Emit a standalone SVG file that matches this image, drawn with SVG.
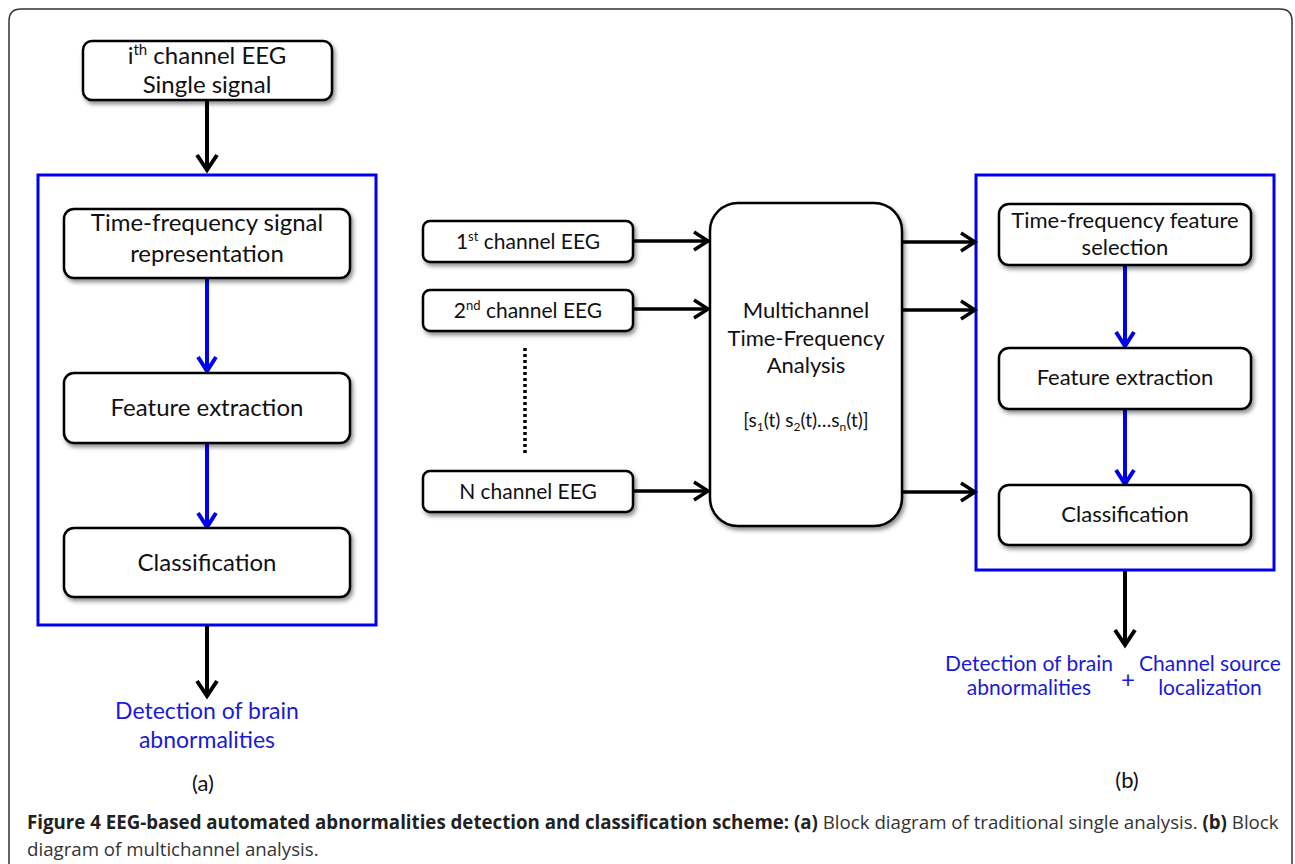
<svg xmlns="http://www.w3.org/2000/svg" width="1295" height="864" viewBox="0 0 1295 864">
<style>
.box{fill:#fff;stroke:#000;stroke-width:2.5;filter:url(#sh)}
.blue{fill:none;stroke:#0000ee;stroke-width:3}
.t{font-family:Lato,"Open Sans",sans-serif;fill:#111;text-anchor:middle}
.bt{font-family:Lato,"Open Sans",sans-serif;fill:#1a1ad6;text-anchor:middle}
.ab{stroke:#000;stroke-width:4;fill:none}
.ab3{stroke:#000;stroke-width:3.5;fill:none}
.abl{stroke:#0000ee;stroke-width:4;fill:none}
.cap{font-family:"Open Sans",sans-serif;font-size:18.7px;fill:#333}
</style>
<defs>
<filter id="sh" x="-10%" y="-20%" width="130%" height="150%">
<feDropShadow dx="2" dy="3" stdDeviation="2" flood-color="#000" flood-opacity="0.45"/>
</filter>
<marker id="mk" markerUnits="userSpaceOnUse" viewBox="0 0 22 24" markerWidth="22" markerHeight="24" refX="18" refY="12" orient="auto">
<path d="M3,2 L18,12 L3,22" fill="none" stroke="#000" stroke-width="4"/>
</marker>
<marker id="mk3" markerUnits="userSpaceOnUse" viewBox="0 0 22 24" markerWidth="22" markerHeight="24" refX="18" refY="12" orient="auto">
<path d="M4,3 L18,12 L4,21" fill="none" stroke="#000" stroke-width="3.5"/>
</marker>
<marker id="mkb" markerUnits="userSpaceOnUse" viewBox="0 0 22 24" markerWidth="22" markerHeight="24" refX="18" refY="12" orient="auto">
<path d="M4,3 L18,12 L4,21" fill="none" stroke="#0000ee" stroke-width="4"/>
</marker>
</defs>
<rect x="0" y="0" width="1295" height="864" fill="#fff"/>
<path d="M9,864 V21 Q9,9 21,9 H1280 Q1292,9 1292,21 V864" fill="none" stroke="#333" stroke-width="1.5"/>

<g id="group-a">
<rect class="blue" x="38" y="175" width="338" height="450"/>
</g>
<g id="group-b">
<rect class="blue" x="976" y="175" width="298" height="395"/>
</g>

<g id="connectors">
<line class="ab" x1="207" y1="101" x2="207" y2="170" marker-end="url(#mk)"/>
<line class="abl" x1="207" y1="279" x2="207" y2="371" marker-end="url(#mkb)"/>
<line class="abl" x1="207" y1="444" x2="207" y2="527" marker-end="url(#mkb)"/>
<line class="ab" x1="207" y1="626" x2="207" y2="696" marker-end="url(#mk)"/>
<line class="ab3" x1="634" y1="241" x2="708" y2="241" marker-end="url(#mk3)"/>
<line class="ab3" x1="634" y1="309" x2="708" y2="309" marker-end="url(#mk3)"/>
<line class="ab3" x1="634" y1="491" x2="708" y2="491" marker-end="url(#mk3)"/>
<line x1="525" y1="348" x2="525" y2="456" stroke="#000" stroke-width="3.5" stroke-dasharray="3,3"/>
<line class="ab3" x1="903" y1="242" x2="975" y2="242" marker-end="url(#mk3)"/>
<line class="ab3" x1="903" y1="310" x2="975" y2="310" marker-end="url(#mk3)"/>
<line class="ab3" x1="903" y1="492" x2="975" y2="492" marker-end="url(#mk3)"/>
<line class="abl" x1="1125" y1="266" x2="1125" y2="346" marker-end="url(#mkb)"/>
<line class="abl" x1="1125" y1="410" x2="1125" y2="484" marker-end="url(#mkb)"/>
<line class="ab" x1="1125" y1="571" x2="1125" y2="645" marker-end="url(#mk)"/>
</g>

<g id="n-input">
<rect class="box" x="83" y="41" width="249" height="59" rx="9"/>
<text class="t" x="207" y="64" font-size="24">i<tspan font-size="15" dy="-9">th</tspan><tspan dy="9"> channel EEG</tspan></text>
<text class="t" x="207" y="93" font-size="24">Single signal</text>
</g>
<g id="n-tfsr">
<rect class="box" x="64" y="209" width="286" height="69" rx="10"/>
<text class="t" x="207" y="231" font-size="24">Time-frequency signal</text>
<text class="t" x="207" y="262" font-size="24">representation</text>
</g>
<g id="n-fe-a">
<rect class="box" x="64" y="373" width="286" height="70" rx="10"/>
<text class="t" x="207" y="416" font-size="24">Feature extraction</text>
</g>
<g id="n-cl-a">
<rect class="box" x="64" y="528" width="286" height="69" rx="10"/>
<text class="t" x="207" y="571" font-size="24">Classification</text>
</g>
<g id="n-out-a">
<text class="bt" x="207" y="719" font-size="23">Detection of brain</text>
<text class="bt" x="207" y="748" font-size="23">abnormalities</text>
</g>
<text class="t" x="203" y="791" font-size="22" fill="#222">(a)</text>

<g id="n-ch1">
<rect class="box" x="423" y="221" width="210" height="41" rx="7"/>
<text class="t" x="528" y="249" font-size="21">1<tspan font-size="13" dy="-8">st</tspan><tspan dy="8"> channel EEG</tspan></text>
</g>
<g id="n-ch2">
<rect class="box" x="423" y="290" width="210" height="41" rx="7"/>
<text class="t" x="528" y="318" font-size="21">2<tspan font-size="13" dy="-8">nd</tspan><tspan dy="8"> channel EEG</tspan></text>
</g>
<g id="n-chN">
<rect class="box" x="423" y="471" width="210" height="41" rx="7"/>
<text class="t" x="528" y="499" font-size="21">N channel EEG</text>
</g>
<g id="n-multi">
<rect class="box" x="710" y="203" width="192" height="323" rx="28"/>
<text class="t" x="806" y="318" font-size="22">Multichannel</text>
<text class="t" x="806" y="346" font-size="22">Time-Frequency</text>
<text class="t" x="806" y="373" font-size="22">Analysis</text>
<text class="t" x="806" y="427" font-size="19" fill="#333">[s<tspan font-size="12" dy="4">1</tspan><tspan dy="-4">(t) s</tspan><tspan font-size="12" dy="4">2</tspan><tspan dy="-4">(t)…s</tspan><tspan font-size="12" dy="4">n</tspan><tspan dy="-4">(t)]</tspan></text>
</g>

<g id="n-tffs">
<rect class="box" x="999" y="204" width="252" height="61" rx="10"/>
<text class="t" x="1125" y="228" font-size="22">Time-frequency feature</text>
<text class="t" x="1125" y="255" font-size="22">selection</text>
</g>
<g id="n-fe-b">
<rect class="box" x="999" y="348" width="252" height="61" rx="10"/>
<text class="t" x="1125" y="385" font-size="22">Feature extraction</text>
</g>
<g id="n-cl-b">
<rect class="box" x="999" y="485" width="252" height="60" rx="10"/>
<text class="t" x="1125" y="522" font-size="22">Classification</text>
</g>
<g id="n-out-b">
<text class="bt" x="1029" y="671" font-size="21">Detection of brain</text>
<text class="bt" x="1029" y="695" font-size="21">abnormalities</text>
<text class="bt" x="1128" y="688" font-size="24">+</text>
<text class="bt" x="1210" y="671" font-size="21">Channel source</text>
<text class="bt" x="1210" y="695" font-size="21">localization</text>
</g>
<text class="t" x="1127" y="788" font-size="22" fill="#222">(b)</text>

<text class="cap" x="27" y="829"><tspan font-weight="bold" fill="#222">Figure 4 EEG-based automated abnormalities detection and classification scheme: (a)</tspan> Block diagram of traditional single analysis. <tspan font-weight="bold" fill="#222">(b)</tspan> Block</text>
<text class="cap" x="27" y="856">diagram of multichannel analysis.</text>
</svg>
